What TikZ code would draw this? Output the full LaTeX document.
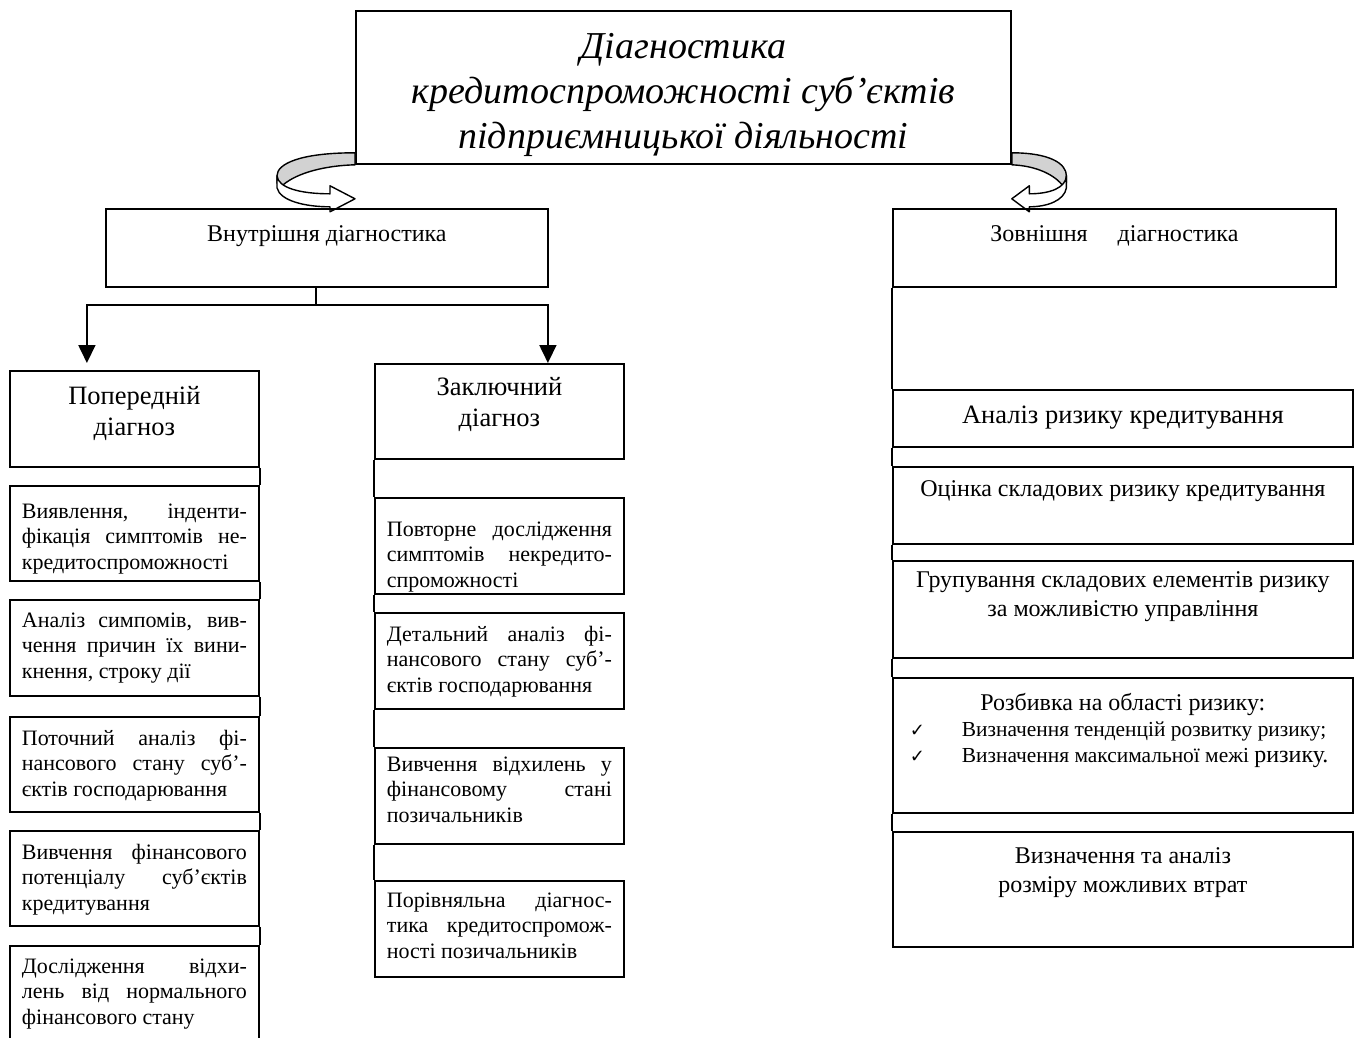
\documentclass[tikz,border=0pt]{standalone}
\usepackage{fontspec}
\setmainfont{Liberation Serif}
\newfontfamily\chkfont{DejaVu Sans}
\usepackage{tikz}
\usetikzlibrary{arrows.meta}
\tikzset{>={Triangle[length=18pt,width=17pt]}}
\tikzset{
	box/.style={draw, line width=1.8pt, inner xsep=12pt, inner ysep=0pt, anchor=north west},
	small/.style={font=\fontsize{22}{25.5}\selectfont},
	head/.style={font=\fontsize{26.5}{31}\selectfont},
	wide/.style={inner xsep=10pt, font=\fontsize{24}{29}\selectfont},
	link/.style={line width=1.8pt},
	curl/.style={line width=1.4pt, line join=round}
}
\newcommand{\cell}[4]{\parbox[t][#1pt][t]{#2pt}{\vspace*{#3pt}#4}}
\newcommand{\jl}[1]{\makebox[\linewidth][s]{#1}\par}
\newcommand{\el}[1]{\mbox{#1}\par}
\newcommand{\chk}[1]{\hspace*{7pt}\makebox[52pt][l]{\chkfont\fontsize{18}{26}\selectfont ✓}\mbox{#1}\par}
\newcommand{\bendarrow}{%
	\draw[curl, fill=gray!35] (0,-12) .. controls (-55,-12) and (-78,-1) .. (-78,11) -- (-78,18) -- (-74,22) .. controls (-62,10) and (-35,1) .. (0,0) -- cycle;
	\draw[curl, fill=white] (-78,11) -- (-78,23) .. controls (-75,36) and (-50,42) .. (-25,42) -- (-25,47) -- (0,34) -- (-25,21) -- (-25,29) .. controls (-55,29) and (-77,23) .. (-78,11) -- cycle;}

\begin{document}
\begin{tikzpicture}[x=1pt,y=-1pt]
		\useasboundingbox (0,0) rectangle (1357,1037);
		\clip (0,0) rectangle (1357,1037);

		\node[box, inner xsep=10pt, font=\itshape\fontsize{38}{45}\selectfont] (diag) at (355,10) {\cell{153}{635}{22}{\centering Діагностика\\ кредитоспроможності суб’єктів\\ підприємницької діяльності}};
		\begin{scope}[shift={(diag.south west)}]
			\bendarrow
		\end{scope}
		\begin{scope}[shift={(diag.south east)}, xscale=-0.7]
			\bendarrow
		\end{scope}

		\node[box, inner xsep=10pt, font=\fontsize{24}{28}\selectfont] (vnutr) at (105,208) {\cell{78}{422}{17}{\centering Внутрішня діагностика}};
		\node[box, inner xsep=10pt, font=\fontsize{24}{28}\selectfont] (zovn) at (892,208) {\cell{78}{423}{17}{\centering Зовнішня\hspace{24pt} діагностика}};

		% left column
		\node[box, head] (poper) at (9,370) {\cell{96}{225}{15}{\centering Попередній\\ діагноз}};
		\node[box, small] (l1) at (9,485) {\cell{95}{225}{18}{\jl{Виявлення, інденти-}\jl{фікація симптомів не-}\el{кредитоспроможності}}};
		\node[box, small] (l2) at (9,599) {\cell{96}{225}{13}{\jl{Аналіз симпомів, вив-}\jl{чення причин їх вини-}\el{кнення, строку дії}}};
		\node[box, small] (l3) at (9,716) {\cell{95}{225}{13}{\jl{Поточний аналіз фі-}\jl{нансового стану суб’-}\el{єктів господарювання}}};
		\node[box, small] (l4) at (9,830) {\cell{95}{225}{13}{\jl{Вивчення фінансового}\jl{потенціалу суб’єктів}\el{кредитування}}};
		\node[box, small] (l5) at (9,945) {\cell{100}{225}{13}{\jl{Дослідження відхи-}\jl{лень від нормального}\el{фінансового стану}}};

		% middle column
		\node[box, head] (zakl) at (374,363) {\cell{95}{225}{13}{\centering Заключний\\ діагноз}};
		\node[box, small] (m1) at (374,497) {\cell{96}{225}{24}{\jl{Повторне дослідження}\jl{симптомів некредито-}\el{спроможності}}};
		\node[box, small] (m2) at (374,612) {\cell{96}{225}{13}{\jl{Детальний аналіз фі-}\jl{нансового стану суб’-}\el{єктів господарювання}}};
		\node[box, small] (m3) at (374,747) {\cell{96}{225}{9}{\jl{Вивчення відхилень у}\jl{фінансовому стані}\el{позичальників}}};
		\node[box, small] (m4) at (374,880) {\cell{96}{225}{12}{\jl{Порівняльна діагнос-}\jl{тика кредитоспромож-}\el{ності позичальників}}};

		% right column
		\node[box, wide, font=\fontsize{26.5}{30}\selectfont] (r1) at (892,389) {\cell{57}{440}{16}{\centering Аналіз ризику кредитування}};
		\node[box, wide] (r2) at (892,466) {\cell{77}{440}{14}{\centering Оцінка складових ризику кредитування}};
		\node[box, wide] (r3) at (892,560) {\cell{97}{440}{11}{\centering Групування складових елементів ризику\\ за можливістю управління}};
		\node[box, wide] (r4) at (892,677) {\cell{135}{440}{15}{\centering Розбивка на області ризику:\par\raggedright\fontsize{21.4}{26}\selectfont
			\chk{Визначення тенденцій розвитку ризику;}\chk{Визначення максимальної межі {\fontsize{24}{26}\selectfont ризику.}}}};
		\node[box, wide] (r5) at (892,831) {\cell{115}{440}{16}{\centering Визначення та аналіз\\ розміру можливих втрат}};

		\coordinate (fork) at (316,305);
		\draw[link] (vnutr.south -| fork) -- (fork);
		\draw[link,->,shorten >=7pt] (fork) -| ([xshift=-47.5pt]poper.north);
		\draw[link,->] (fork) -| ([xshift=48.5pt]zakl.north);

		\foreach \a/\b in {poper/l1,l1/l2,l2/l3,l3/l4,l4/l5}
			\draw[link] (\a.south east) -- (\b.north east);
		\foreach \a/\b in {zakl/m1,m1/m2,m2/m3,m3/m4}
			\draw[link] (\a.south west) -- (\b.north west);
		\foreach \a/\b in {zovn/r1,r1/r2,r2/r3,r3/r4,r4/r5}
			\draw[link] (\a.south west) -- (\b.north west);
	\end{tikzpicture}
\end{document}
